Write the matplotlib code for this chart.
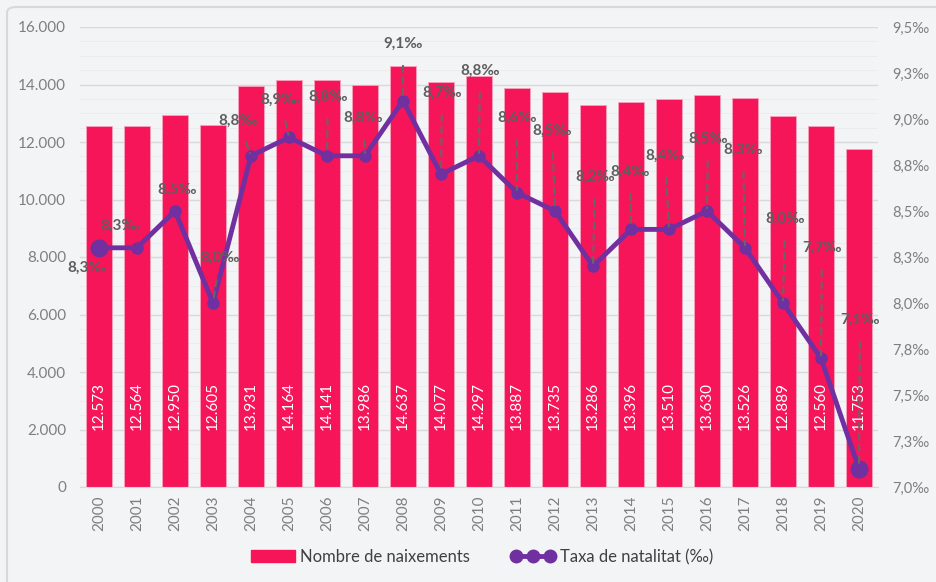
import matplotlib.pyplot as plt
from matplotlib.lines import Line2D
from matplotlib.patches import Patch, FancyBboxPatch

plt.rcParams['font.family'] = ['Lato', 'DejaVu Sans']

years = [str(y) for y in range(2000, 2021)]
births = [12573, 12564, 12950, 12605, 13931, 14164, 14141, 13986, 14637, 14077,
          14297, 13887, 13735, 13286, 13396, 13510, 13630, 13526, 12889, 12560, 11753]
rate = [8.3, 8.3, 8.5, 8.0, 8.8, 8.9, 8.8, 8.8, 9.1, 8.7,
        8.8, 8.6, 8.5, 8.2, 8.4, 8.4, 8.5, 8.3, 8.0, 7.7, 7.1]
left_ticks = [0, 2000, 4000, 6000, 8000, 10000, 12000, 14000, 16000]
right_ticks = [7.0, 7.25, 7.5, 7.75, 8.0, 8.25, 8.5, 8.75, 9.0, 9.25, 9.5]
right_labels = ['7,0‰', '7,3‰', '7,5‰', '7,8‰', '8,0‰', '8,3‰', '8,5‰', '8,8‰', '9,0‰', '9,3‰', '9,5‰']

# callout offsets (pixels) for the rate labels, as Excel placed them
label_off = [(-12, -20), (-17, 22), (2, 21), (7, 45), (-13, 35), (-9, 38), (1, 59),
             (-2, 38), (0, 57), (1, 81), (1, 85), (0, 75), (-3, 80), (2, 89),
             (-1, 58), (-4, 74), (1, 72), (-2, 98), (2, 84), (1, 110), (1, 149)]

bg = '#F3F4F6'
grey = '#7F7F7F'
bar_col = '#F7155A'
line_col = '#7030A0'

fig = plt.figure(figsize=(9.36, 5.82), dpi=100, facecolor=bg)
ax = fig.add_axes([80 / 936, 1 - 487 / 582, 798 / 936, 460 / 582])
ax.set_facecolor(bg)

x = list(range(len(years)))
ax.bar(x, births, width=0.66, color=bar_col, edgecolor='#F9A3BD', linewidth=0.6, zorder=2)
for xi, b in zip(x, births):
    ax.text(xi, 2800, f'{b:,}'.replace(',', '.'), rotation=90, ha='center', va='center',
            color='white', fontsize=11, zorder=3)

ax.set_xlim(-0.5, 20.5)
ax.set_ylim(0, 16000)
ax.set_yticks(left_ticks)
ax.set_yticklabels([f'{t:,}'.replace(',', '.') for t in left_ticks])
ax.set_yticks(range(0, 16001, 500), minor=True)
ax.grid(axis='y', which='major', color='#D9D9D9', lw=1, zorder=0)
ax.grid(axis='y', which='minor', color='#EAEBED', lw=0.6, zorder=0)
ax.set_xticks(x)
ax.set_xticklabels(years, rotation=90)
ax.tick_params(axis='both', which='both', length=0, colors=grey, labelsize=11)
ax.tick_params(axis='y', pad=10)
ax.tick_params(axis='x', pad=6)
for s in ['left', 'right', 'top']:
    ax.spines[s].set_visible(False)
ax.spines['bottom'].set_color('#D9D9D9')

ax2 = ax.twinx()
ax2.set_ylim(7.0, 9.5)
ax2.set_yticks(right_ticks)
ax2.set_yticklabels(right_labels)
ax2.tick_params(axis='y', length=0, colors=grey, labelsize=10.5, pad=10)
for s in ax2.spines.values():
    s.set_visible(False)

ax2.plot(x, rate, color=line_col, lw=3.5, marker='o', ms=8, zorder=5)
ax2.plot([x[0], x[-1]], [rate[0], rate[-1]], 'o', color=line_col, ms=12, zorder=5)

for xi, r, (dx, dy) in zip(x, rate, label_off):
    txt = f'{r:.1f}'.replace('.', ',') + '‰'
    ax2.annotate(txt, xy=(xi, r), xytext=(dx, dy), textcoords='offset pixels',
                 ha='center', va='center', fontsize=11, fontweight='bold', color='#5E5E5E',
                 zorder=6,
                 arrowprops=dict(arrowstyle='-', color='#666666', lw=1.5, ls=(0, (3, 2.5)),
                                 shrinkA=9, shrinkB=2) if abs(dy) > 30 else None)

handles = [Patch(color=bar_col, label='Nombre de naixements'),
           Line2D([0], [0], color=line_col, lw=3.5, marker='o', ms=9,
                  label='Taxa de natalitat (‰)')]
fig.legend(handles=handles, loc='center', bbox_to_anchor=(0.515, 0.043), ncol=2,
           frameon=False, fontsize=12, labelcolor='#404040', handlelength=2.6,
           numpoints=3, handletextpad=0.3, columnspacing=2.5)

fig.patches.append(FancyBboxPatch((7 / 936, -0.02), 1.1, 1 - 7 / 582 + 0.02,
                                  boxstyle='round,pad=0,rounding_size=0.01',
                                  transform=fig.transFigure, fill=False,
                                  edgecolor='#D9D9D9', lw=1.5))

fig.savefig('out.png', dpi=100, facecolor=bg)
